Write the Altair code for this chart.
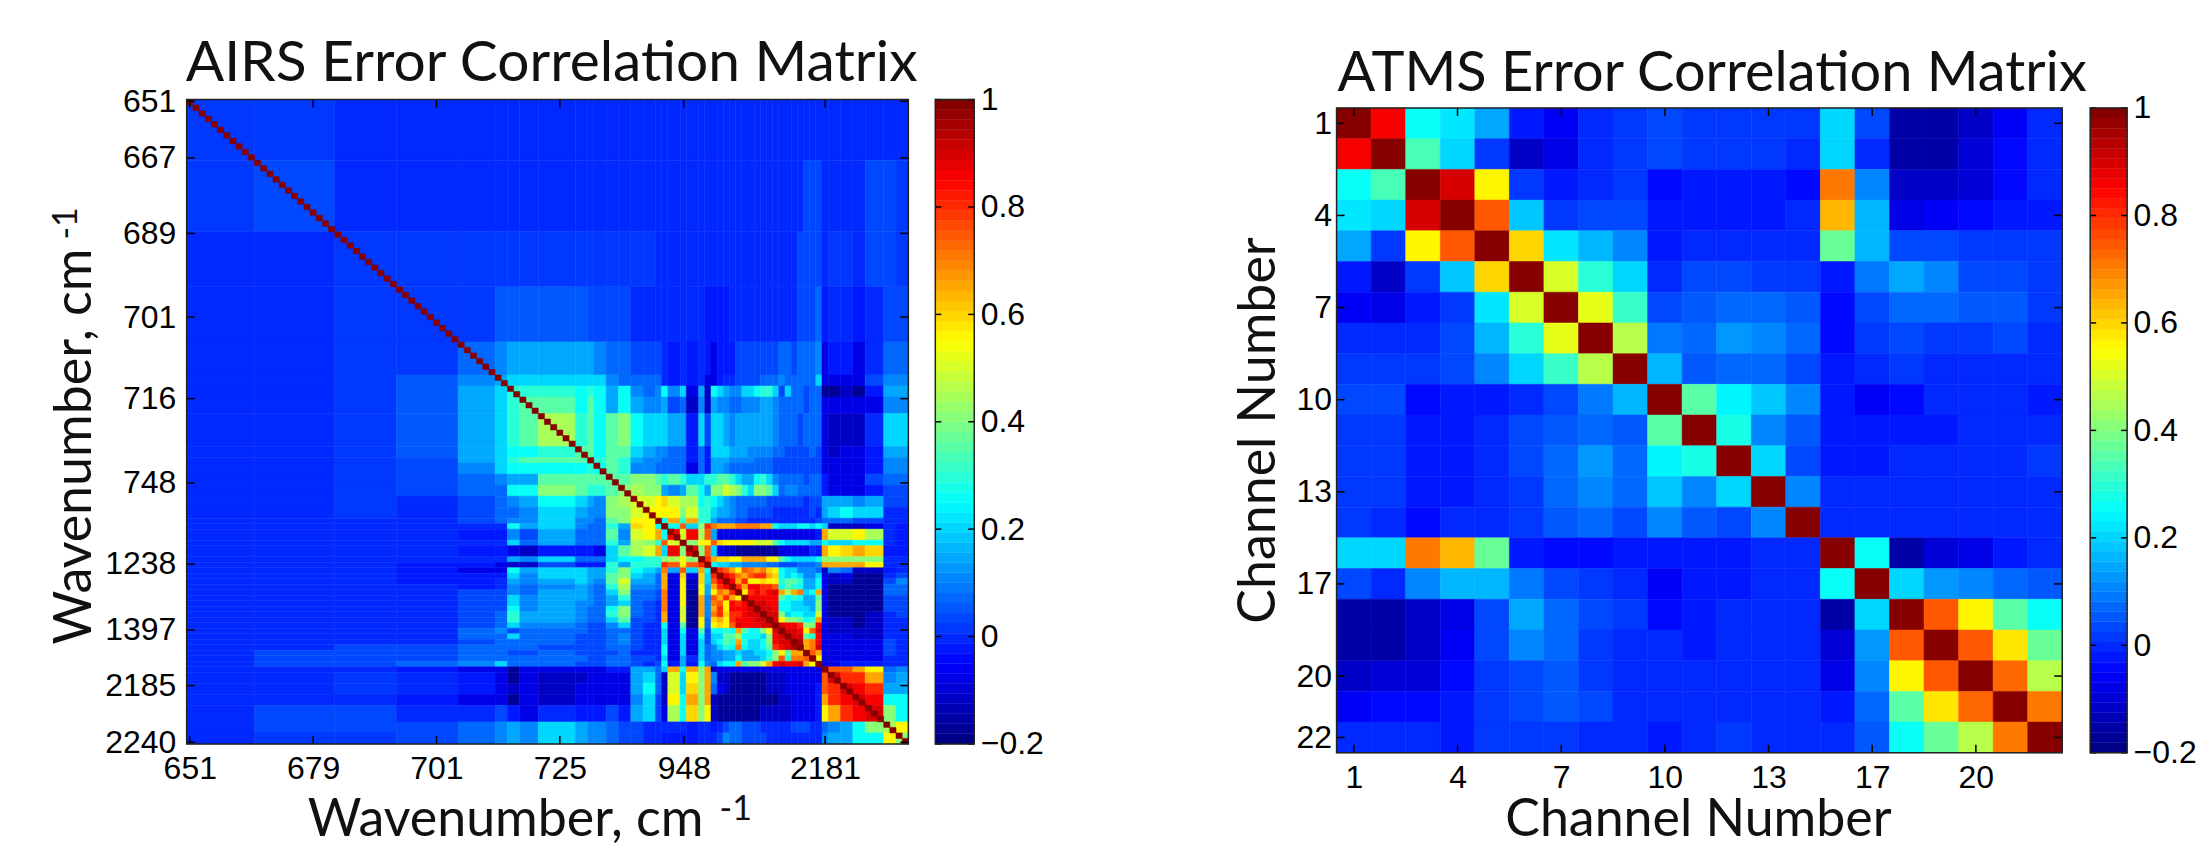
import altair as alt
import pandas as pd

# ---------- data ----------
LEVELS = {"N": -0.17, "M": -0.12, "K": -0.07, "A": -0.03, "B": -0.01, "b": 0.01, "C": 0.03, "c": 0.05,
          "D": 0.07, "E": 0.11, "F": 0.15, "G": 0.2, "H": 0.25, "I": 0.3, "J": 0.35, "L": 0.4, "O": 0.45,
          "P": 0.5, "Q": 0.55, "R": 0.6, "S": 0.65, "T": 0.7, "U": 0.75, "V": 0.8, "W": 0.85, "X": 0.9,
          "Y": 0.95, "Z": 1.0}

AIRS_N = 117
AIRS_EDGES = [0, 11, 24, 34, 44, 50, 52, 54, 57, 63, 65, 66, 68, 70, 72, 74, 76, 77, 78, 80, 81, 83, 84, 85,
              86, 87, 88, 89, 90, 91, 92, 93, 94, 95, 96, 97, 98, 99, 100, 101, 102, 103,
              104, 106, 108, 110, 113, 115, 117]
AIRS_ROWS = [
    "b", "bC", "BBb", "BBbb", "BBbbD", "BBbcEF", "BBbcFGI", "BBbcFGIJ", "BBbcFGIJO", "BBbcFGHHIJ",
    "BBbCFGIJJJJ", "BBbCEGHHHHIH", "BBbCDEFFJJJJJ", "BBbCDDHHLJIIJL", "BBbBCDEFHGFELOP",
    "BBbBCDDEGFEELLPQ", "BBBBCDEEGEEDJLQQQ", "BBBBBBHFGEDDIFRQHZ", "BBBBAAECFDDDJEPQSHW",
    "BBBBBBGDFDDDIFOLIUPZ", "BBBBAAKMAAAKGJOPSGWLX", "BBBBBBFEGDDDGHHIILOQLZ", "BBBAAKMMCAAAIFIIIVUQUVZ",
    "BBBAKKHFGGFFILHGFTFUGSH" + "Z",
    "BBBAAAGEGGFFJLGFDSKRKRG" + "VZ",
    "BBBAABFEFGFEJPFFDSKQMRG" + "UWZ",
    "BBBBABEDEFEDIOEEDSKQMQF" + "SVWZ",
    "BBBBCCEDFFEDGLDDCTKQNQF" + "QTSVZ",
    "BBBBCCGEFFEDFIDDCTKQNSE" + "USVSQZ",
    "BBBBCCGEFEEDFGDCBTKQNSE" + "TUQWVWZ",
    "BBBBCCHEFEDDHLDCBTKPNSE" + "SVQWWWXZ",
    "BBBBCDIFFEDDILDCBSKPNSE" + "TVRVVWXXZ",
    "BBBBCDIFFEDDGJCCBSKPNQD" + "RSQVWWWXXZ",
    "BBBBCDGEEDCCEGCBBHKJNQD" + "QRQUXWWWXXZ",
    "BBBBDECDDDCCDDCBBGKHKJC" + "HHIHSJHHLQXZ",
    "BBBBDDGDDCCCDECBBGKGKHC" + "GGJJOHHHGLWXZ",
    "BBBBCDDDDCCCDECBBGKGKGC" + "GHJISIGGHLWXXZ",
    "BBCCDDDDCCCCDDCBBHKGKGD" + "EGIHTHGGHJVWXYZ",
    "BCCCDDCCDCCCCDBBBHKGKGD" + "EEFFGFFGGHLQJSSZ",
    "BCCCDDDDDDCCDDCCBGKFBGD" + "EEFFHFFFGILUITTUZ",
    "BCCDEGDDDCCCDDCBCHAFAHE" + "DGHHSJLLPSWXWWXSQZ",
    "BBBAKKNKKKKKAAFFDGSHSLS" + "MKKKKKKKKKKKKKKKKK" + "Z",
    "BBbBAKNKMMKKKKFGDMPGQLS" + "EMMNNNNNNMMMKKKKKK" + "UX",
    "BBbBAKMKMKKKKKFHDMPGRLS" + "DKMNNNNNNMMMKKKKKA" + "UVX",
    "BBBAKKNKMKKKKKEGCMQHSLS" + "MNNNNNNNNNNMMKKKKA" + "SVWX",
    "BCCBBCAKBAAACAFGCKOHRLQ" + "MNNNNNNNMMMMMKKKKA" + "QSVWX",
    "BCCCDEFEGFEEDCCBBBBBABB" + "ABCDDCCCBBBBBCCCBB" + "DEFHLO",
    "BbbCDEFEGFEEDCCBBAAAABB" + "BCEDDCCCCBBBBBBBBB" + "EFFHHQL",
]

ATMS = [
    [1.0, .85, .25, .22, .14, -.02, -.06, 0, .02, .03, .01, .02, .01, .01, .2, .03, -.16, -.16, -.12, -.06, 0],
    [.85, 1.0, .33, .21, .02, -.12, -.07, 0, .02, .03, .01, .01, .02, 0, .21, -.01, -.16, -.16, -.1, -.05, -.01],
    [.25, .33, 1.0, .9, .56, .01, -.02, 0, .02, -.04, -.02, -.02, -.02, -.04, .7, .11, -.12, -.11, -.1, -.04, 0],
    [.22, .21, .9, 1.0, .75, .19, .02, .03, .03, -.03, -.02, -.02, -.02, 0, .64, .16, -.07, -.06, -.05, -.03, -.03],
    [.14, .02, .56, .75, 1.0, .6, .23, .17, .1, -.02, -.01, -.01, -.01, -.01, .38, .16, .03, .03, .01, .01, .01],
    [-.02, -.12, .01, .19, .6, 1.0, .5, .3, .2, -.01, .03, .03, .02, .02, -.02, .09, .14, .11, .04, .04, .02],
    [-.06, -.07, -.02, .02, .23, .5, 1.0, .53, .32, .03, .05, .08, .08, .05, -.05, .04, .08, .08, .06, .05, .01],
    [0, 0, 0, .03, .17, .3, .53, 1.0, .47, .09, .07, .12, .1, .07, -.04, .01, .03, .02, .02, .03, 0],
    [.02, .02, .02, .03, .1, .2, .32, .47, 1.0, .17, .06, .07, .07, .04, -.03, 0, .02, 0, -.01, -.01, 0],
    [.03, .03, -.04, -.03, -.02, -.01, .03, .09, .17, 1.0, .36, .24, .19, .1, -.02, -.06, -.04, -.01, -.01, -.01, -.02],
    [.01, .01, -.02, -.02, -.01, .03, .05, .07, .06, .36, 1.0, .27, .11, .06, -.02, -.02, -.03, -.02, -.01, -.01, -.01],
    [.02, .01, -.02, -.02, -.01, .03, .08, .12, .07, .24, .27, 1.0, .2, .03, -.02, -.02, -.01, -.01, -.01, -.01, .01],
    [.01, .02, -.02, -.02, -.01, .02, .08, .1, .07, .19, .11, .2, 1.0, .1, 0, -.01, 0, -.01, -.01, -.01, -.01],
    [.01, 0, -.04, 0, -.01, .02, .05, .07, .04, .1, .06, .03, .1, 1.0, 0, 0, 0, 0, 0, 0, 0],
    [.2, .21, .7, .64, .38, -.02, -.05, -.04, -.03, -.02, -.02, -.02, 0, 0, 1.0, .25, -.16, -.1, -.07, -.03, -.01],
    [.03, -.01, .11, .16, .16, .09, .04, .01, 0, -.06, -.02, -.02, -.01, 0, .25, 1.0, .2, .12, .1, .08, .05],
    [-.16, -.16, -.12, -.07, .03, .14, .08, .03, .02, -.04, -.03, -.01, 0, 0, -.16, .2, 1.0, .75, .55, .35, .25],
    [-.16, -.16, -.11, -.06, .03, .11, .08, .02, 0, -.01, -.02, -.01, -.01, 0, -.1, .12, .75, 1.0, .75, .58, .38],
    [-.12, -.1, -.1, -.05, .01, .04, .06, .02, -.01, -.01, -.01, -.01, -.01, 0, -.07, .1, .55, .75, 1.0, .73, .47],
    [-.06, -.05, -.04, -.03, .01, .04, .05, .03, -.01, -.01, -.01, -.01, -.01, 0, -.03, .08, .35, .58, .73, 1.0, .7],
    [0, -.01, 0, -.03, .01, .02, .01, 0, 0, -.02, -.01, .01, -.01, 0, -.01, .05, .25, .38, .47, .7, 1.0],
]

AIRS_X_TICKS = [0.5, 20.5, 40.5, 60.5, 80.6, 103.5]
AIRS_X_LABELS = ["651", "679", "701", "725", "948", "2181"]
AIRS_Y_TICKS = [0.3, 10.6, 24.3, 39.5, 54.3, 69.6, 84.3, 96.3, 106.4, 116.7]
AIRS_Y_LABELS = ["651", "667", "689", "701", "716", "748", "1238", "1397", "2185", "2240"]
ATMS_X_TICKS = [0.5, 3.5, 6.5, 9.5, 12.5, 15.5, 18.5]
ATMS_X_LABELS = ["1", "4", "7", "10", "13", "17", "20"]
ATMS_Y_TICKS = [0.5, 3.5, 6.5, 9.5, 12.5, 15.5, 18.5, 20.5]
ATMS_Y_LABELS = ["1", "4", "7", "10", "13", "17", "20", "22"]
CB_TICKS = [-0.2, 0, 0.2, 0.4, 0.6, 0.8, 1]
CB_LABELS = ["\u22120.2", "0", "0.2", "0.4", "0.6", "0.8", "1"]

# ---------- colormap (64-step jet) ----------
def jet(i, n=64):
    t = (i + 0.5) / n
    r = min(max(min(4 * t - 1.5, -4 * t + 4.5), 0), 1)
    g = min(max(min(4 * t - 0.5, -4 * t + 3.5), 0), 1)
    b = min(max(min(4 * t + 0.5, -4 * t + 2.5), 0), 1)
    return "#%02x%02x%02x" % (round(r * 255), round(g * 255), round(b * 255))

JET = [jet(i) for i in range(64)]
COLOR_SCALE = alt.Scale(type="quantize", domain=[-0.2, 1], range=JET)

# ---------- tables ----------
assert len(AIRS_ROWS) == len(AIRS_EDGES) - 1
airs_cells = []
for r, row in enumerate(AIRS_ROWS):
    assert len(row) == r + 1, (r, len(row))
    for c, ch in enumerate(row):
        v = LEVELS[ch]
        airs_cells.append(dict(x0=AIRS_EDGES[c], x1=AIRS_EDGES[c + 1], y0=AIRS_EDGES[r], y1=AIRS_EDGES[r + 1], v=v))
        if c != r:
            airs_cells.append(dict(x0=AIRS_EDGES[r], x1=AIRS_EDGES[r + 1], y0=AIRS_EDGES[c], y1=AIRS_EDGES[c + 1], v=v))
for i in range(AIRS_N):
    airs_cells.append(dict(x0=i, x1=i + 1, y0=i, y1=i + 1, v=1.0))

atms_cells = [dict(x0=c, x1=c + 1, y0=r, y1=r + 1, v=ATMS[r][c]) for r in range(21) for c in range(21)]

FONT = "Liberation Sans"
HEAD = "Lato"
LABEL_SIZE = 32


def expr(ticks, labels):
    return "[%s][indexof([%s], datum.value)]" % (",".join("'%s'" % s for s in labels), ",".join(str(t) for t in ticks))


def one():
    return alt.Chart(pd.DataFrame({"a": [0]}))


def matrix(cells, n, xt, xl, yt, yl, w, h, top, title, title_x, title_y, title_size,
           xtitle, ytitle, xt_x, xt_y, yt_x, yt_y, pad_x, pad_y, sup_x=None, sup_y=None):
    xs = alt.Scale(domain=[0, n], nice=False, zero=False)
    ys = alt.Scale(domain=[0, n], nice=False, zero=False, range=[top, top + h])
    xaxis = alt.Axis(
        values=xt, labelExpr=expr(xt, xl), title=xtitle, grid=False, domain=False, tickSize=0,
        labelFont=FONT, labelFontSize=LABEL_SIZE, labelColor="#000", labelPadding=pad_x, labelOverlap=False,
        labelFlush=False, titleFont=HEAD, titleFontSize=52, titleFontWeight="normal", titleColor="#111",
        titleX=xt_x, titleY=xt_y, titleBaseline="alphabetic", titleAlign="center", titleAnchor="middle")
    yaxis = alt.Axis(
        values=yt, labelExpr=expr(yt, yl), title=ytitle, grid=False, domain=False, tickSize=0,
        labelFont=FONT, labelFontSize=LABEL_SIZE, labelColor="#000", labelPadding=pad_y, labelOverlap=False,
        labelFlush=False, titleFont=HEAD, titleFontSize=52, titleFontWeight="normal", titleColor="#111",
        titleX=yt_x, titleY=yt_y, titleBaseline="alphabetic", titleAlign="center", titleAnchor="middle")
    base = alt.Chart(pd.DataFrame(cells)).mark_rect(strokeWidth=0.5).encode(
        x=alt.X("x0:Q", scale=xs, axis=xaxis),
        x2="x1:Q",
        y=alt.Y("y0:Q", scale=ys, axis=yaxis),
        y2="y1:Q",
        color=alt.Color("v:Q", scale=COLOR_SCALE, legend=None),
        stroke=alt.Stroke("v:Q", scale=COLOR_SCALE, legend=None),
    )
    tx = pd.DataFrame({"t": xt})
    ty = pd.DataFrame({"t": yt})
    layers = [base]
    for a, b in ((top, top + 8), (top + h - 8, top + h)):
        layers.append(alt.Chart(tx).mark_rule(color="#000", strokeWidth=1.5).encode(
            x=alt.X("t:Q", scale=xs, axis=xaxis), y=alt.value(a), y2=alt.value(b)))
    for a, b in ((0, 8), (w - 8, w)):
        layers.append(alt.Chart(ty).mark_rule(color="#000", strokeWidth=1.5).encode(
            y=alt.Y("t:Q", scale=ys, axis=yaxis), x=alt.value(a), x2=alt.value(b)))
    layers.append(one().mark_rect(fillOpacity=0, stroke="#222", strokeWidth=1.5).encode(
        x=alt.value(0), x2=alt.value(w), y=alt.value(top), y2=alt.value(top + h)))
    layers.append(one().mark_text(text=title, font=HEAD, fontSize=title_size, color="#111", align="left",
                                  baseline="alphabetic").encode(x=alt.value(title_x), y=alt.value(title_y)))
    if sup_x:
        layers.append(one().mark_text(text="-1", font=HEAD, fontSize=34, color="#111", align="center",
                                      baseline="alphabetic").encode(x=alt.value(sup_x[0]), y=alt.value(sup_x[1])))
        layers.append(one().mark_text(text="-1", font=HEAD, fontSize=34, color="#111", align="center",
                                      baseline="alphabetic", angle=270).encode(x=alt.value(sup_y[0]), y=alt.value(sup_y[1])))
    return alt.layer(*layers).properties(width=w, height=top + h)


def colorbar(w, h, top):
    ys = alt.Scale(domain=[1, -0.2], nice=False, zero=False, range=[top, top + h])
    yaxis = alt.Axis(
        orient="right", values=CB_TICKS, labelExpr=expr(CB_TICKS, CB_LABELS), title=None, grid=False,
        domain=False, tickSize=0, labelFont=FONT, labelFontSize=LABEL_SIZE, labelColor="#000", labelPadding=6,
        labelOverlap=False, labelFlush=False)
    vals = [-0.2 + 1.2 * i / 64 for i in range(64)]
    df = pd.DataFrame({"lo": vals, "hi": [v + 1.2 / 64 for v in vals], "mid": [v + 0.6 / 64 for v in vals]})
    bar = alt.Chart(df).mark_rect(strokeWidth=0.4).encode(
        x=alt.value(0), x2=alt.value(w),
        y=alt.Y("lo:Q", scale=ys, axis=yaxis),
        y2="hi:Q",
        color=alt.Color("mid:Q", scale=COLOR_SCALE, legend=None),
        stroke=alt.Stroke("mid:Q", scale=COLOR_SCALE, legend=None),
    )
    ticks = pd.DataFrame({"t": CB_TICKS})
    layers = [bar]
    for a, b in ((0, 6), (w - 6, w)):
        layers.append(alt.Chart(ticks).mark_rule(color="#000", strokeWidth=1.5).encode(
            y=alt.Y("t:Q", scale=ys, axis=yaxis), x=alt.value(a), x2=alt.value(b)))
    layers.append(one().mark_rect(fillOpacity=0, stroke="#222", strokeWidth=1.5).encode(
        x=alt.value(0), x2=alt.value(w), y=alt.value(top), y2=alt.value(top + h)))
    return alt.layer(*layers).properties(width=w, height=top + h)


def spacer(w):
    return one().mark_point(opacity=0).encode(x=alt.value(0), y=alt.value(0)).properties(width=w, height=10)


OFFSET = 8.4
airs = matrix(airs_cells, AIRS_N, AIRS_X_TICKS, AIRS_X_LABELS, AIRS_Y_TICKS, AIRS_Y_LABELS, 723, 645.5, 0,
              "AIRS Error Correlation Matrix", -1, -18.5, 57,
              "Wavenumber, cm", "Wavenumber, cm", 319, 92, -96, 347, 10, 11,
              sup_x=(550, 722), sup_y=(-110, 124))
atms = matrix(atms_cells, 21, ATMS_X_TICKS, ATMS_X_LABELS, ATMS_Y_TICKS, ATMS_Y_LABELS, 727, 646, OFFSET,
              "ATMS Error Correlation Matrix", 1, -9, 56,
              "Channel Number", "Channel Number", 362, 83, -62, 331, 10, 5)

chart = alt.hconcat(
    airs, spacer(27), colorbar(39, 645.5, 0), spacer(363), atms, spacer(28), colorbar(37, 646, OFFSET),
    spacing=0, bounds="flush",
).properties(padding={"left": 41, "top": 26, "right": 5, "bottom": 5}).configure_view(stroke=None)

chart.save("out.html", embed_options={"renderer": "svg", "actions": False})
